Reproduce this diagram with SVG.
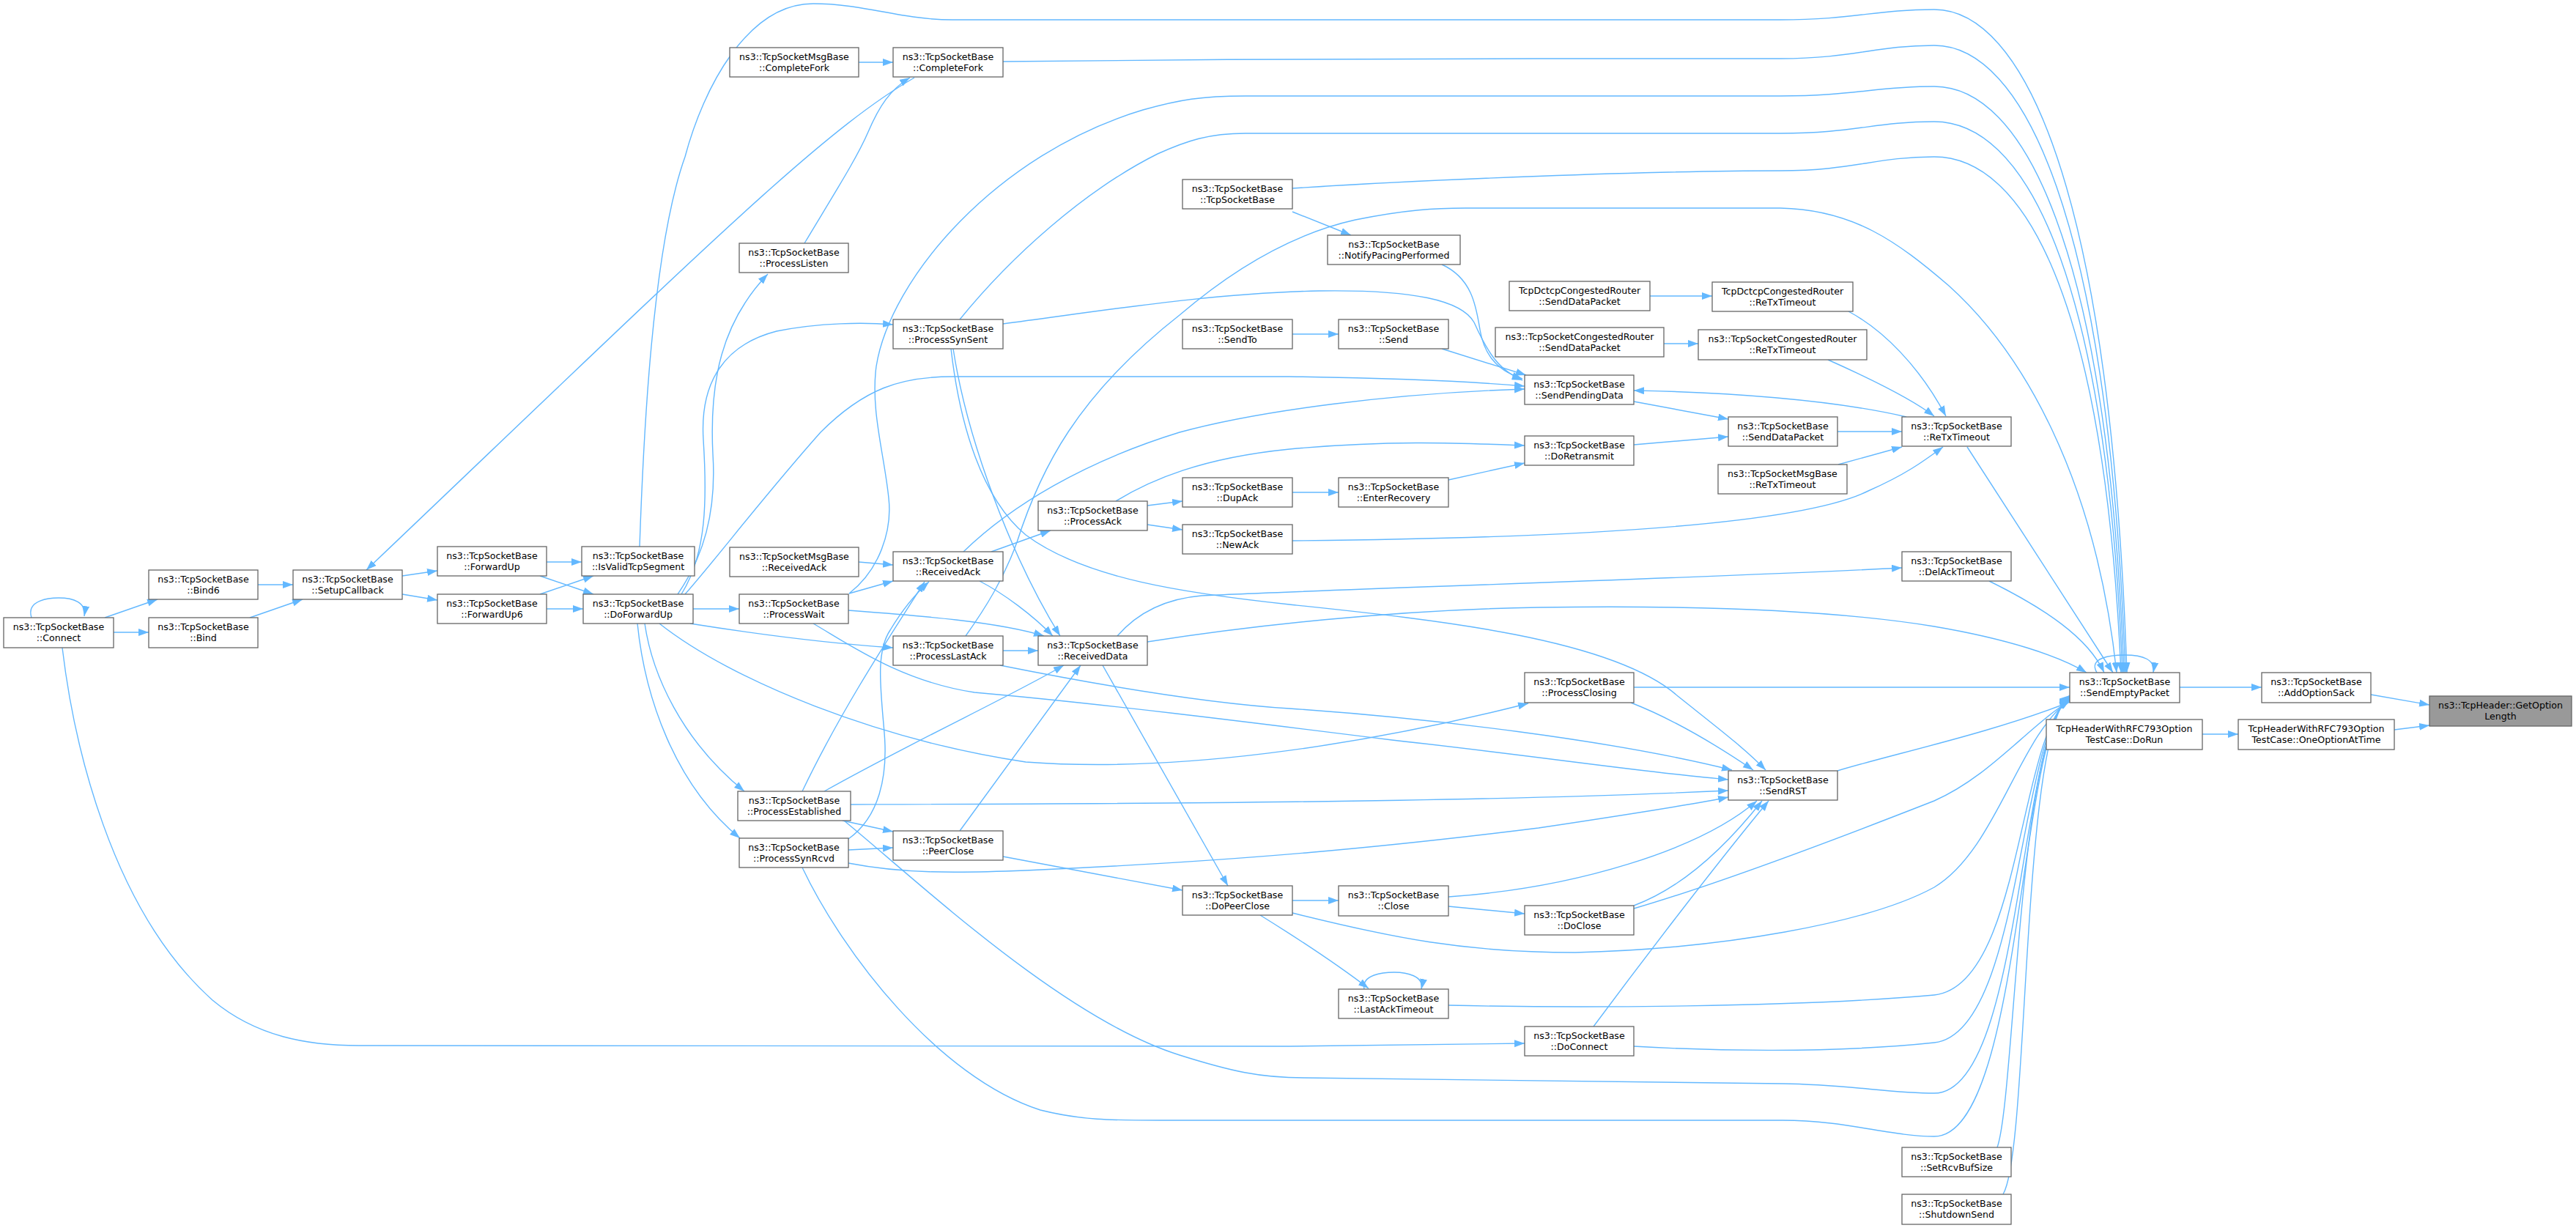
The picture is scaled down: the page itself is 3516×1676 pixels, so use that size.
<svg xmlns="http://www.w3.org/2000/svg" width="3516" height="1676" viewBox="0 0 3516 1676">
<style>
.n rect{fill:#ffffff;stroke:#666666;stroke-width:1.3}
.n.hl rect{fill:#999999}
.n text{font-family:"DejaVu Sans","Liberation Sans",sans-serif;font-size:12.6px;text-anchor:middle;fill:#000000}
.e path{fill:none;stroke:#63b8ff;stroke-width:1.4;marker-end:url(#a)}
</style>
<defs>
<marker id="a" markerUnits="userSpaceOnUse" markerWidth="16" markerHeight="12" refX="14" refY="5" orient="auto"><path d="M0,0 L14,5 L0,10 z" fill="#63b8ff"/></marker>
</defs>
<rect x="0" y="0" width="3516" height="1676" fill="#ffffff"/>
<g id="edges" class="e">
<path d="M43,843 C35,818 70,816 80,816 C100,816 118,822 115,841"/>
<path d="M143,843 L215,818"/>
<path d="M155,863 L203,863"/>
<path d="M85,884 C100,1010 150,1240 290,1365 C350,1415 420,1427 490,1427 L1760,1428 C1900,1427 2000,1425 2081,1424"/>
<path d="M352,798 L400,798"/>
<path d="M341,843 L413,818"/>
<path d="M549,786 L597,779"/>
<path d="M549,811 L597,819"/>
<path d="M746,767 L794,767"/>
<path d="M737,786 L810,811"/>
<path d="M737,811 L810,786"/>
<path d="M746,831 L796,831"/>
<path d="M1248,106 C1120,180 960,340 500,778"/>
<path d="M873,746 C878,600 890,340 935,214 C960,120 1020,5 1110,5 C1180,5 1230,27 1300,27 L2430,27 C2530,27 2560,13 2640,13 C2760,13 2880,250 2903,918"/>
<path d="M925,811 C960,760 978,700 973,620 C968,520 985,440 1048,374"/>
<path d="M930,811 C965,755 965,680 960,600 C955,520 990,470 1060,452 C1120,440 1180,440 1219,443"/>
<path d="M935,811 C980,760 1040,680 1120,590 C1180,530 1230,514 1300,514 L1760,514 C1900,516 2000,520 2081,527"/>
<path d="M946,831 L1009,831"/>
<path d="M942,851 C1030,865 1130,878 1219,884"/>
<path d="M880,851 C890,920 930,1010 1016,1080"/>
<path d="M870,851 C880,950 920,1070 1010,1144"/>
<path d="M900,851 C1000,930 1200,1010 1400,1040 C1600,1055 1850,1020 2086,960"/>
<path d="M1172,85 L1219,85"/>
<path d="M1098,332 C1140,262 1170,215 1185,180 C1200,145 1215,122 1242,106"/>
<path d="M1369,84 C1600,81 1900,80 2100,80 L2430,80 C2530,80 2560,62 2640,62 C2760,62 2878,290 2901,918"/>
<path d="M1310,436 C1380,350 1480,260 1580,210 C1620,192 1650,182 1700,182 L2430,182 C2530,182 2560,166 2640,166 C2760,166 2874,360 2897,918"/>
<path d="M1369,442 C1500,425 1650,400 1800,397 C1930,395 1995,410 2012,440 C2030,480 2045,505 2078,519"/>
<path d="M1301,476 C1320,600 1380,760 1447,868"/>
<path d="M1298,476 C1310,580 1340,680 1400,730 C1480,790 1620,810 1760,825 C1950,845 2200,870 2290,950 C2340,990 2380,1020 2410,1051"/>
<path d="M1172,767 L1219,771"/>
<path d="M1159,810 L1219,793"/>
<path d="M1158,833 C1250,840 1360,848 1425,868"/>
<path d="M1110,851 C1160,880 1230,930 1330,945 C1500,960 1700,985 1900,1010 C2100,1032 2250,1055 2359,1064"/>
<path d="M1159,810 C1200,778 1218,725 1213,680 C1207,620 1188,560 1196,500 C1215,380 1360,210 1560,150 C1610,136 1640,131 1700,131 L2430,131 C2530,131 2560,118 2640,118 C2760,118 2876,330 2899,918"/>
<path d="M1095,1080 C1150,965 1220,860 1262,794"/>
<path d="M1125,1080 C1250,1010 1380,950 1452,908"/>
<path d="M1150,1120 L1219,1135"/>
<path d="M1161,1098 C1500,1097 2000,1096 2359,1079"/>
<path d="M1152,1120 C1250,1200 1450,1390 1610,1440 C1680,1462 1720,1471 1780,1471 L2433,1479 C2520,1480 2580,1492 2640,1492 C2760,1492 2755,1000 2825,952"/>
<path d="M1158,1145 C1200,1115 1212,1060 1207,1000 C1202,940 1195,890 1215,860 C1230,835 1250,810 1268,794"/>
<path d="M1158,1160 L1219,1157"/>
<path d="M1158,1178 C1230,1192 1300,1192 1400,1188 C1700,1175 1900,1155 2100,1130 C2200,1115 2300,1100 2359,1088"/>
<path d="M1095,1184 C1150,1300 1280,1470 1420,1515 C1480,1530 1520,1529 1600,1529 L2433,1529 C2520,1529 2580,1551 2640,1551 C2760,1551 2755,1000 2825,951"/>
<path d="M1369,888 L1417,888"/>
<path d="M1365,908 C1500,935 1650,960 1760,967 C1950,980 2200,1010 2364,1051"/>
<path d="M1318,868 C1345,830 1370,790 1388,740 C1420,640 1470,540 1610,430 C1680,370 1760,320 1850,300 C1920,286 1960,284 2000,284 L2430,284 C2530,286 2590,330 2660,390 C2760,480 2860,650 2889,918"/>
<path d="M1353,753 L1434,724"/>
<path d="M1337,793 C1370,810 1410,840 1437,868"/>
<path d="M1315,753 C1380,690 1480,630 1610,590 C1720,560 1900,537 2081,531"/>
<path d="M1310,1134 L1475,908"/>
<path d="M1369,1169 L1614,1215"/>
<path d="M1505,908 L1676,1209"/>
<path d="M1525,868 C1545,845 1580,818 1640,813 C1800,805 2300,790 2596,775"/>
<path d="M1566,876 C1700,855 1900,832 2100,829 C2300,826 2500,832 2640,855 C2740,872 2810,895 2848,918"/>
<path d="M1566,690 L1614,684"/>
<path d="M1566,716 L1614,723"/>
<path d="M1523,684 C1570,655 1640,625 1760,613 C1900,600 2000,605 2081,608"/>
<path d="M1764,289 L1844,321"/>
<path d="M1764,257 C1950,245 2250,233 2430,233 C2530,233 2560,214 2640,214 C2760,214 2872,400 2895,918"/>
<path d="M1764,456 L1827,456"/>
<path d="M1764,672 L1827,672"/>
<path d="M1764,738 C2100,735 2450,720 2550,670 C2600,648 2625,630 2652,610"/>
<path d="M1764,1229 L1827,1229"/>
<path d="M1720,1249 C1770,1280 1830,1320 1868,1349"/>
<path d="M1764,1246 C1900,1280 2000,1300 2150,1300 C2350,1295 2550,1260 2640,1211 C2725,1160 2755,1005 2825,955"/>
<path d="M1968,361 C2010,380 2015,420 2020,450 C2025,480 2040,505 2078,517"/>
<path d="M1968,476 L2083,512"/>
<path d="M1977,655 L2081,632"/>
<path d="M1977,1237 L2081,1247"/>
<path d="M1977,1224 C2150,1212 2320,1160 2398,1093"/>
<path d="M1862,1350 C1858,1330 1888,1327 1903,1327 C1920,1327 1944,1332 1940,1350"/>
<path d="M1977,1372 C2150,1376 2450,1375 2640,1358 C2760,1345 2755,1000 2825,954"/>
<path d="M2252,404 L2337,404"/>
<path d="M2271,469 L2318,469"/>
<path d="M2230,548 L2359,572"/>
<path d="M2230,607 L2359,596"/>
<path d="M2226,959 C2280,980 2340,1015 2393,1051"/>
<path d="M2230,938 L2825,938"/>
<path d="M2230,1236 C2300,1210 2360,1150 2405,1093"/>
<path d="M2230,1240 C2350,1205 2520,1140 2640,1093 C2715,1060 2765,995 2825,956"/>
<path d="M2175,1401 C2250,1300 2350,1170 2414,1093"/>
<path d="M2230,1428 C2330,1434 2500,1438 2640,1423 C2760,1410 2755,1000 2825,953"/>
<path d="M2523,425 C2570,450 2620,500 2656,568"/>
<path d="M2495,491 C2560,520 2610,545 2640,568"/>
<path d="M2508,589 L2596,589"/>
<path d="M2509,634 L2596,610"/>
<path d="M2508,1052 C2580,1030 2720,1000 2825,958"/>
<path d="M2602,569 C2500,545 2350,535 2230,533"/>
<path d="M2685,610 L2884,918"/>
<path d="M2715,793 C2790,830 2850,870 2872,918"/>
<path d="M2726,1566 C2750,1500 2755,1000 2825,950"/>
<path d="M2734,1630 C2770,1570 2758,1000 2825,949"/>
<path d="M2862,918 C2850,898 2880,894 2900,894 C2925,894 2942,900 2939,918"/>
<path d="M2975,938 L3087,938"/>
<path d="M3236,948 L3316,962"/>
<path d="M3006,1002 L3055,1002"/>
<path d="M3268,996 L3316,990"/>
</g>
<g id="n_connect" class="n"><rect x="5" y="843" width="150" height="41"/><text x="80" y="860">ns3::TcpSocketBase</text><text x="80" y="874.5">::Connect</text></g>
<g id="n_bind6" class="n"><rect x="203" y="778" width="149" height="40"/><text x="277.5" y="795">ns3::TcpSocketBase</text><text x="277.5" y="809.5">::Bind6</text></g>
<g id="n_bind" class="n"><rect x="203" y="843" width="149" height="41"/><text x="277.5" y="860">ns3::TcpSocketBase</text><text x="277.5" y="874.5">::Bind</text></g>
<g id="n_setupcallback" class="n"><rect x="400" y="778" width="149" height="40"/><text x="474.5" y="795">ns3::TcpSocketBase</text><text x="474.5" y="809.5">::SetupCallback</text></g>
<g id="n_forwardup" class="n"><rect x="597" y="746" width="149" height="40"/><text x="671.5" y="763">ns3::TcpSocketBase</text><text x="671.5" y="777.5">::ForwardUp</text></g>
<g id="n_forwardup6" class="n"><rect x="597" y="811" width="149" height="40"/><text x="671.5" y="828">ns3::TcpSocketBase</text><text x="671.5" y="842.5">::ForwardUp6</text></g>
<g id="n_isvalid" class="n"><rect x="794" y="746" width="154" height="40"/><text x="871" y="763">ns3::TcpSocketBase</text><text x="871" y="777.5">::IsValidTcpSegment</text></g>
<g id="n_doforwardup" class="n"><rect x="796" y="811" width="150" height="40"/><text x="871" y="828">ns3::TcpSocketBase</text><text x="871" y="842.5">::DoForwardUp</text></g>
<g id="n_msgcompletefork" class="n"><rect x="996" y="65" width="176" height="40"/><text x="1084" y="82">ns3::TcpSocketMsgBase</text><text x="1084" y="96.5">::CompleteFork</text></g>
<g id="n_completefork" class="n"><rect x="1219" y="65" width="150" height="40"/><text x="1294" y="82">ns3::TcpSocketBase</text><text x="1294" y="96.5">::CompleteFork</text></g>
<g id="n_processlisten" class="n"><rect x="1009" y="332" width="149" height="40"/><text x="1083.5" y="349">ns3::TcpSocketBase</text><text x="1083.5" y="363.5">::ProcessListen</text></g>
<g id="n_processsynsent" class="n"><rect x="1219" y="436" width="150" height="40"/><text x="1294" y="453">ns3::TcpSocketBase</text><text x="1294" y="467.5">::ProcessSynSent</text></g>
<g id="n_msgreceivedack" class="n"><rect x="996" y="747" width="176" height="40"/><text x="1084" y="764">ns3::TcpSocketMsgBase</text><text x="1084" y="778.5">::ReceivedAck</text></g>
<g id="n_receivedack" class="n"><rect x="1219" y="753" width="150" height="40"/><text x="1294" y="770">ns3::TcpSocketBase</text><text x="1294" y="784.5">::ReceivedAck</text></g>
<g id="n_processwait" class="n"><rect x="1009" y="811" width="149" height="40"/><text x="1083.5" y="828">ns3::TcpSocketBase</text><text x="1083.5" y="842.5">::ProcessWait</text></g>
<g id="n_processlastack" class="n"><rect x="1219" y="868" width="150" height="40"/><text x="1294" y="885">ns3::TcpSocketBase</text><text x="1294" y="899.5">::ProcessLastAck</text></g>
<g id="n_receiveddata" class="n"><rect x="1417" y="868" width="149" height="40"/><text x="1491.5" y="885">ns3::TcpSocketBase</text><text x="1491.5" y="899.5">::ReceivedData</text></g>
<g id="n_processack" class="n"><rect x="1417" y="684" width="149" height="40"/><text x="1491.5" y="701">ns3::TcpSocketBase</text><text x="1491.5" y="715.5">::ProcessAck</text></g>
<g id="n_processestablished" class="n"><rect x="1007" y="1080" width="154" height="40"/><text x="1084" y="1097">ns3::TcpSocketBase</text><text x="1084" y="1111.5">::ProcessEstablished</text></g>
<g id="n_processsynrcvd" class="n"><rect x="1009" y="1144" width="149" height="40"/><text x="1083.5" y="1161">ns3::TcpSocketBase</text><text x="1083.5" y="1175.5">::ProcessSynRcvd</text></g>
<g id="n_peerclose" class="n"><rect x="1219" y="1134" width="150" height="40"/><text x="1294" y="1151">ns3::TcpSocketBase</text><text x="1294" y="1165.5">::PeerClose</text></g>
<g id="n_dopeerclose" class="n"><rect x="1614" y="1209" width="150" height="40"/><text x="1689" y="1226">ns3::TcpSocketBase</text><text x="1689" y="1240.5">::DoPeerClose</text></g>
<g id="n_tcpsocketbase" class="n"><rect x="1614" y="245" width="150" height="40"/><text x="1689" y="262">ns3::TcpSocketBase</text><text x="1689" y="276.5">::TcpSocketBase</text></g>
<g id="n_sendto" class="n"><rect x="1614" y="436" width="150" height="40"/><text x="1689" y="453">ns3::TcpSocketBase</text><text x="1689" y="467.5">::SendTo</text></g>
<g id="n_dupack" class="n"><rect x="1614" y="652" width="150" height="40"/><text x="1689" y="669">ns3::TcpSocketBase</text><text x="1689" y="683.5">::DupAck</text></g>
<g id="n_newack" class="n"><rect x="1614" y="716" width="150" height="40"/><text x="1689" y="733">ns3::TcpSocketBase</text><text x="1689" y="747.5">::NewAck</text></g>
<g id="n_notifypacing" class="n"><rect x="1812" y="321" width="181" height="40"/><text x="1902.5" y="338">ns3::TcpSocketBase</text><text x="1902.5" y="352.5">::NotifyPacingPerformed</text></g>
<g id="n_send" class="n"><rect x="1827" y="436" width="150" height="40"/><text x="1902" y="453">ns3::TcpSocketBase</text><text x="1902" y="467.5">::Send</text></g>
<g id="n_enterrecovery" class="n"><rect x="1827" y="652" width="150" height="40"/><text x="1902" y="669">ns3::TcpSocketBase</text><text x="1902" y="683.5">::EnterRecovery</text></g>
<g id="n_close" class="n"><rect x="1827" y="1209" width="150" height="41"/><text x="1902" y="1226">ns3::TcpSocketBase</text><text x="1902" y="1240.5">::Close</text></g>
<g id="n_lastacktimeout" class="n"><rect x="1827" y="1350" width="150" height="40"/><text x="1902" y="1367">ns3::TcpSocketBase</text><text x="1902" y="1381.5">::LastAckTimeout</text></g>
<g id="n_dctcpsend" class="n"><rect x="2060" y="384" width="192" height="40"/><text x="2156" y="401">TcpDctcpCongestedRouter</text><text x="2156" y="415.5">::SendDataPacket</text></g>
<g id="n_congsend" class="n"><rect x="2041" y="447" width="230" height="40"/><text x="2156" y="464">ns3::TcpSocketCongestedRouter</text><text x="2156" y="478.5">::SendDataPacket</text></g>
<g id="n_sendpendingdata" class="n"><rect x="2081" y="512" width="149" height="40"/><text x="2155.5" y="529">ns3::TcpSocketBase</text><text x="2155.5" y="543.5">::SendPendingData</text></g>
<g id="n_doretransmit" class="n"><rect x="2081" y="595" width="149" height="40"/><text x="2155.5" y="612">ns3::TcpSocketBase</text><text x="2155.5" y="626.5">::DoRetransmit</text></g>
<g id="n_processclosing" class="n"><rect x="2081" y="918" width="149" height="41"/><text x="2155.5" y="935">ns3::TcpSocketBase</text><text x="2155.5" y="949.5">::ProcessClosing</text></g>
<g id="n_doclose" class="n"><rect x="2081" y="1236" width="149" height="40"/><text x="2155.5" y="1253">ns3::TcpSocketBase</text><text x="2155.5" y="1267.5">::DoClose</text></g>
<g id="n_doconnect" class="n"><rect x="2081" y="1401" width="149" height="40"/><text x="2155.5" y="1418">ns3::TcpSocketBase</text><text x="2155.5" y="1432.5">::DoConnect</text></g>
<g id="n_dctcpretx" class="n"><rect x="2337" y="385" width="192" height="40"/><text x="2433" y="402">TcpDctcpCongestedRouter</text><text x="2433" y="416.5">::ReTxTimeout</text></g>
<g id="n_congretx" class="n"><rect x="2318" y="450" width="230" height="41"/><text x="2433" y="467">ns3::TcpSocketCongestedRouter</text><text x="2433" y="481.5">::ReTxTimeout</text></g>
<g id="n_senddatapacket" class="n"><rect x="2359" y="569" width="149" height="40"/><text x="2433.5" y="586">ns3::TcpSocketBase</text><text x="2433.5" y="600.5">::SendDataPacket</text></g>
<g id="n_msgretx" class="n"><rect x="2345" y="634" width="176" height="40"/><text x="2433" y="651">ns3::TcpSocketMsgBase</text><text x="2433" y="665.5">::ReTxTimeout</text></g>
<g id="n_sendrst" class="n"><rect x="2359" y="1052" width="149" height="40"/><text x="2433.5" y="1069">ns3::TcpSocketBase</text><text x="2433.5" y="1083.5">::SendRST</text></g>
<g id="n_retxtimeout" class="n"><rect x="2596" y="569" width="149" height="40"/><text x="2670.5" y="586">ns3::TcpSocketBase</text><text x="2670.5" y="600.5">::ReTxTimeout</text></g>
<g id="n_delacktimeout" class="n"><rect x="2596" y="753" width="149" height="40"/><text x="2670.5" y="770">ns3::TcpSocketBase</text><text x="2670.5" y="784.5">::DelAckTimeout</text></g>
<g id="n_setrcvbufsize" class="n"><rect x="2596" y="1566" width="149" height="40"/><text x="2670.5" y="1583">ns3::TcpSocketBase</text><text x="2670.5" y="1597.5">::SetRcvBufSize</text></g>
<g id="n_shutdownsend" class="n"><rect x="2596" y="1630" width="149" height="41"/><text x="2670.5" y="1647">ns3::TcpSocketBase</text><text x="2670.5" y="1661.5">::ShutdownSend</text></g>
<g id="n_sendemptypacket" class="n"><rect x="2825" y="918" width="150" height="41"/><text x="2900" y="935">ns3::TcpSocketBase</text><text x="2900" y="949.5">::SendEmptyPacket</text></g>
<g id="n_dorun" class="n"><rect x="2793" y="982" width="213" height="41"/><text x="2899.5" y="999">TcpHeaderWithRFC793Option</text><text x="2899.5" y="1013.5">TestCase::DoRun</text></g>
<g id="n_addoptionsack" class="n"><rect x="3087" y="918" width="149" height="41"/><text x="3161.5" y="935">ns3::TcpSocketBase</text><text x="3161.5" y="949.5">::AddOptionSack</text></g>
<g id="n_oneoptionattime" class="n"><rect x="3055" y="982" width="213" height="41"/><text x="3161.5" y="999">TcpHeaderWithRFC793Option</text><text x="3161.5" y="1013.5">TestCase::OneOptionAtTime</text></g>
<g id="n_getoptionlength" class="n hl"><rect x="3316" y="950" width="194" height="41"/><text x="3413" y="967">ns3::TcpHeader::GetOption</text><text x="3413" y="981.5">Length</text></g>
</svg>
